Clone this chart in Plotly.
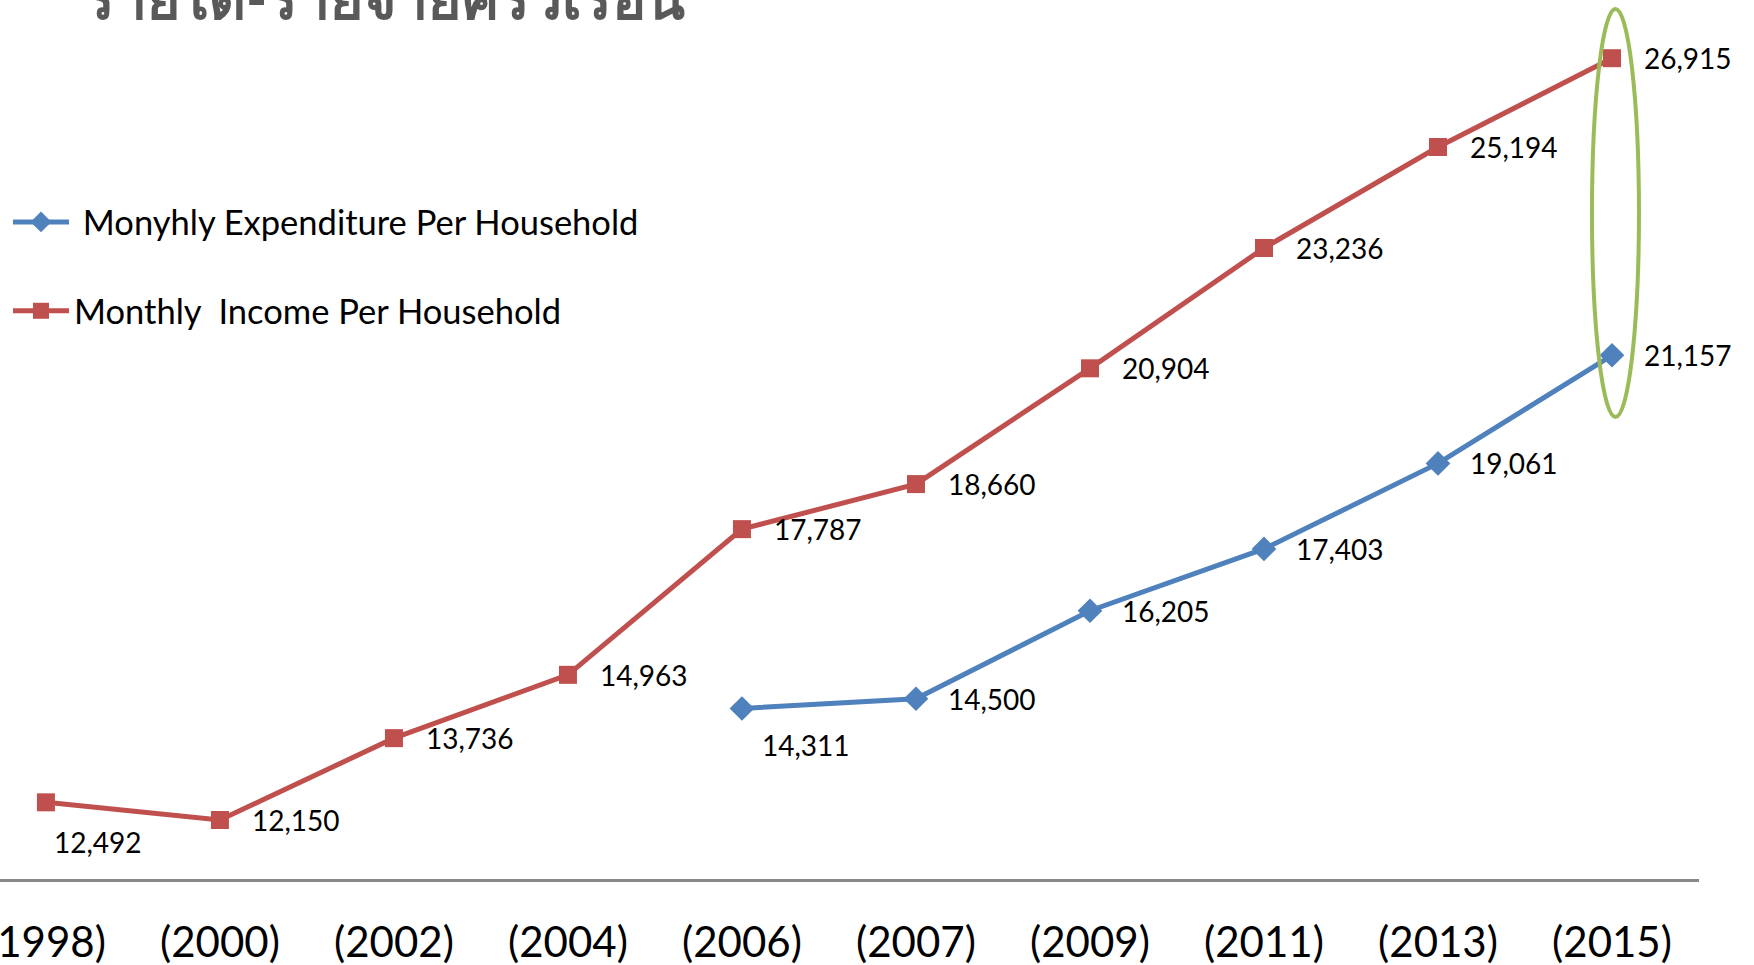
import plotly.graph_objects as go

years = ["(1998)", "(2000)", "(2002)", "(2004)", "(2006)", "(2007)", "(2009)", "(2011)", "(2013)", "(2015)"]
expenditure = [None, None, None, None, 14311, 14500, 16205, 17403, 19061, 21157]
income = [12492, 12150, 13736, 14963, 17787, 18660, 20904, 23236, 25194, 26915]
exp_name = " Monyhly Expenditure Per Household"
inc_name = "Monthly  Income Per Household"
title_text = "รายได้-รายจ่ายครัวเรือน"

BLUE = "#4F81BD"
RED = "#C0504D"
GREEN = "#9BBB59"
FONT = "Lato, Calibri, 'Open Sans', sans-serif"

xs = list(range(len(years)))

fig = go.Figure()
fig.add_trace(go.Scatter(
    x=xs, y=expenditure, name=exp_name, mode="lines+markers",
    line=dict(color=BLUE, width=5), connectgaps=False,
    marker=dict(symbol="diamond", size=19, color=BLUE),
    legendgroup="a", hoverinfo="skip",
))
fig.add_trace(go.Scatter(
    x=xs, y=income, name=inc_name, mode="lines+markers",
    line=dict(color=RED, width=5),
    marker=dict(symbol="square", size=18, color=RED),
    legendgroup="b", hoverinfo="skip",
))

# data labels
below = {("inc", 0), ("exp", 4)}
annotations = []
for key, series in (("exp", expenditure), ("inc", income)):
    for i, v in enumerate(series):
        if v is None:
            continue
        if (key, i) in below:
            xshift, yshift = (6, -40) if key == "inc" else (18, -37)
        else:
            xshift, yshift = 30, 0
        annotations.append(dict(
            x=i, y=v, xref="x", yref="y", text=f"{v:,}", showarrow=False,
            xanchor="left", yanchor="middle", xshift=xshift, yshift=yshift,
            font=dict(family=FONT, size=28, color="#000000"),
        ))

annotations.append(dict(
    x=82 / 1699, y=1 - 33 / 879, xref="paper", yref="paper", text=title_text,
    showarrow=False, xanchor="left", yanchor="bottom",
    font=dict(family=FONT, size=57, color="#595959", weight="bold"),
))

# highlight ellipse around the last year's values
last = len(years) - 1
fig.add_shape(
    type="circle", xref="x", yref="y",
    x0=last - 0.115, x1=last + 0.155,
    y0=expenditure[last] - 1197, y1=income[last] + 954,
    line=dict(color=GREEN, width=4), fillcolor="rgba(0,0,0,0)",
)

fig.update_layout(
    width=1754, height=965,
    margin=dict(l=0, r=55, t=0, b=86, autoexpand=False),
    paper_bgcolor="white", plot_bgcolor="white",
    font=dict(family=FONT, color="#000000"),
    annotations=annotations,
    showlegend=True,
    legend=dict(
        x=8 / 1699, y=1 - 193 / 879, xanchor="left", yanchor="top",
        font=dict(family=FONT, size=34.5, color="#000000"),
        tracegroupgap=41, bgcolor="rgba(0,0,0,0)",
        itemwidth=56,
    ),
    xaxis=dict(
        range=[-0.264, 9.5], tickmode="array", tickvals=xs, ticktext=years,
        showgrid=False, zeroline=False, showline=True, linecolor="#888888", linewidth=3,
        ticks="", ticklabelstandoff=25, ticklabeloverflow="allow",
        tickfont=dict(family=FONT, size=42, color="#000000"),
        automargin=False, fixedrange=True,
    ),
    yaxis=dict(
        range=[11006, 28043], visible=False, showgrid=False, zeroline=False,
        automargin=False, fixedrange=True,
    ),
)

fig.write_html(
    "out.html",
    config={"displayModeBar": False},
    post_script="document.body.style.margin='0';document.body.style.overflow='hidden';",
)
